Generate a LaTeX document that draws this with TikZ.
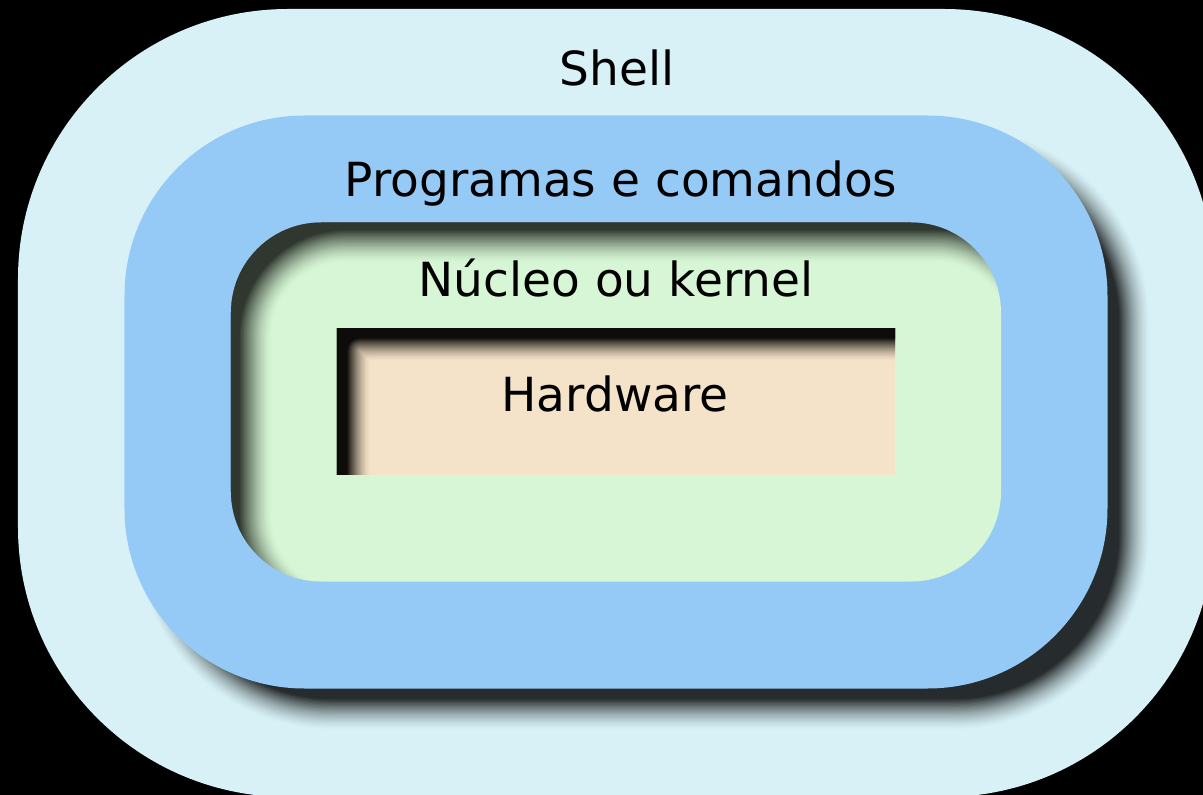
\documentclass[tikz,border=0pt]{standalone}
\usepackage{fontspec}
\setmainfont{DejaVu Sans}
\definecolor{shellc}{HTML}{D8F1F6}
\definecolor{bluec}{HTML}{95CAF7}
\definecolor{greenc}{HTML}{D7F6D5}
\definecolor{hwc}{HTML}{F5E3C9}
\begin{document}
\begin{tikzpicture}[x=1pt,y=1pt,
  lbl/.style={anchor=base, inner sep=0pt, text=black, font=\fontsize{47}{56}\selectfont},
  layerfill/.style={fill=#1, draw=none}]
\def\N{24}
\useasboundingbox (-616,-393) rectangle (587,402);
\clip (-616,-393) rectangle (587,402);
\fill[black] (-616,-393) rectangle (587,402);
% Shell
\fill[layerfill=shellc, rounded corners=270pt] (-598,-395) rectangle (598,393);
% drop shadow of the blue layer (soft edge)
\foreach \j in {1,...,24}{
  \pgfmathsetmacro\sd{16-32*(\j-0.5)/\N}
  \pgfmathsetmacro\sa{1-(1-0.8*(\j/\N)^1.6)/(1-0.8*((\j-1)/\N)^1.6)}
  \pgfmathsetmacro\sw{491.5+\sd}
  \pgfmathsetmacro\sh{286.5+\sd}
  \pgfmathsetmacro\sr{max(180+\sd,0.5)}
  \fill[black, fill opacity=\sa, rounded corners=\sr pt] (27-\sw,-26-\sh) rectangle (27+\sw,-26+\sh);
}
% Programas e comandos
\fill[layerfill=bluec, rounded corners=180pt] (-491.5,-286.5) rectangle (491.5,286.5);
% Kernel
\fill[layerfill=greenc, rounded corners=90pt] (-385,-179.5) rectangle (385,179.5);
\begin{scope}
  \clip[rounded corners=90pt] (-385,-179.5) rectangle (385,179.5);
  \foreach \j in {1,...,24}{
    \pgfmathsetmacro\sd{17-34*(\j-0.5)/\N}
    \pgfmathsetmacro\sa{1-(1-0.76*(\j/\N)^1.6)/(1-0.76*((\j-1)/\N)^1.6)}
    \pgfmathsetmacro\sw{385-\sd}
    \pgfmathsetmacro\sh{179.5-\sd}
    \pgfmathsetmacro\sr{max(90-\sd,0.5)}
    \fill[black, fill opacity=\sa, even odd rule] (-700,-500) rectangle (700,500)
      [rounded corners=\sr pt] (25-\sw,-24-\sh) rectangle (25+\sw,-24+\sh);
  }
\end{scope}
% Hardware
\fill[layerfill=hwc] (-279,-73) rectangle (279,73);
\begin{scope}
  \clip (-279,-73) rectangle (279,73);
  \foreach \j in {1,...,24}{
    \pgfmathsetmacro\sd{12-24*(\j-0.5)/\N}
    \pgfmathsetmacro\sa{1-(1-0.94*(\j/\N)^1.6)/(1-0.94*((\j-1)/\N)^1.6)}
    \pgfmathsetmacro\sw{279-\sd}
    \pgfmathsetmacro\sh{73-\sd}
    \pgfmathsetmacro\sr{max(-\sd,0.5)}
    \fill[black, fill opacity=\sa, even odd rule] (-700,-500) rectangle (700,500)
      [rounded corners=\sr pt] (22-\sw,-21-\sh) rectangle (22+\sw,-21+\sh);
  }
\end{scope}
% Labels
\node[lbl] (shell) at (1,316) {Shell};
\node[lbl] (prog) at (5,205) {Programas e comandos};
\node[lbl] (kern) at (0,105) {Núcleo ou kernel};
\node[lbl] (hw) at (-1,-10) {Hardware};
\end{tikzpicture}
\end{document}
